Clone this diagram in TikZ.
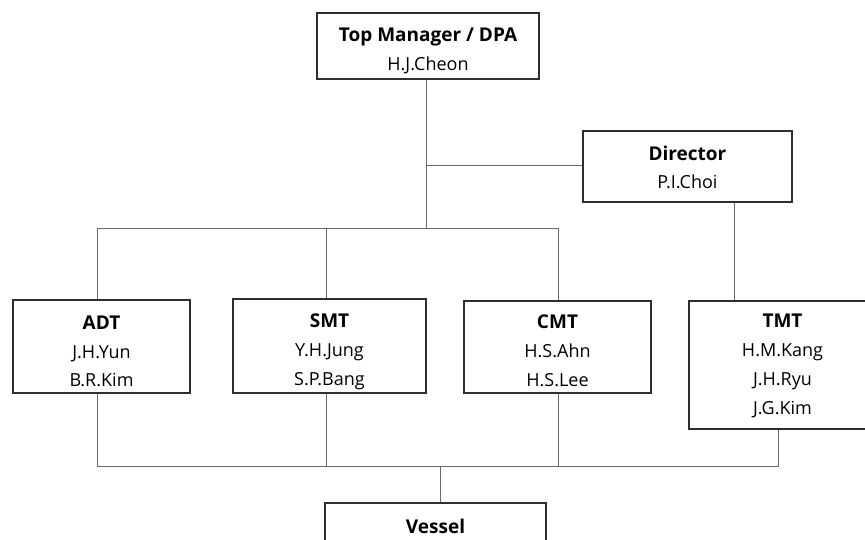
\documentclass[tikz,border=0pt]{standalone}
\usepackage{fontspec}
\setmainfont{Open Sans}
\definecolor{boxc}{HTML}{2E2E2E}
\definecolor{linec}{HTML}{6A6A6A}
\newcommand{\hd}[1]{{\fontsize{19}{28.5}\selectfont\bfseries #1}}
\begin{document}
\begin{tikzpicture}[x=1pt,y=-1pt,
  orgbox/.style={draw=boxc, line width=1.3pt, fill=white, inner sep=0pt},
  txt/.style={align=center, inner sep=0pt, font=\fontsize{18}{28.8}\selectfont, text=black},
  conn/.style={draw=linec, line width=1pt}]
\useasboundingbox (0,0) rectangle (865,539);
\clip (0,0) rectangle (865,539);
% boxes
\node[orgbox, minimum width=222pt, minimum height=66pt] (top) at (428,46) {};
\node[orgbox, minimum width=209pt, minimum height=71pt] (dir) at (687.5,166.5) {};
\node[orgbox, minimum width=177pt, minimum height=93pt] (adt) at (101.5,346.5) {};
\node[orgbox, minimum width=193pt, minimum height=94pt] (smt) at (329.5,346) {};
\node[orgbox, minimum width=187pt, minimum height=92pt] (cmt) at (557.5,347) {};
\node[orgbox, minimum width=187pt, minimum height=128pt] (tmt) at (782.5,365) {};
\node[orgbox, minimum width=221pt, minimum height=66pt] (ves) at (435.5,536) {};
% texts
\node[txt] (top-t) at ([yshift=-5pt]top.center) {\hd{Top Manager / DPA}\\H.J.Cheon};
\node[txt] (dir-t) at ([yshift=-1pt]dir.center) {\hd{Director}\\P.I.Choi};
\node[txt] (adt-t) at ([yshift=-5pt]adt.center) {\hd{ADT}\\J.H.Yun\\B.R.Kim};
\node[txt] (smt-t) at ([yshift=-6pt]smt.center) {\hd{SMT}\\Y.H.Jung\\S.P.Bang};
\node[txt] (cmt-t) at ([yshift=-4pt]cmt.center) {\hd{CMT}\\H.S.Ahn\\H.S.Lee};
\node[txt] (tmt-t) at ([yshift=-1pt]tmt.center) {\hd{TMT}\\H.M.Kang\\J.H.Ryu\\J.G.Kim};
\node[txt] (ves-t) at (435.5,526) {\hd{Vessel}};
% junction coordinates
\coordinate (hub) at (426,228);
\coordinate (dj) at (426,165);
\coordinate (bl) at (97,228);
\coordinate (br) at (558,228);
\coordinate (smtj) at (326,228);
\coordinate (bus) at (440,466);
\coordinate (busl) at (97,466);
\coordinate (busr) at (778,466);
\coordinate (smtb) at (326,466);
\coordinate (cmtb) at (558,466);
\coordinate (dirx) at (734,0);
% connectors
\draw[conn] (top.south -| hub) -- (hub);
\draw[conn] (dj) -- (dj -| dir.west);
\draw[conn] (bl) -- (br);
\draw[conn] (bl) -- (bl |- adt.north);
\draw[conn] (smtj) -- (smtj |- smt.north);
\draw[conn] (br) -- (br |- cmt.north);
\draw[conn] (dir.south -| dirx) -- (tmt.north -| dirx);
\draw[conn] (busl |- adt.south) -- (busl) -- (busr) -- (busr |- tmt.south);
\draw[conn] (smtb |- smt.south) -- (smtb);
\draw[conn] (cmtb |- cmt.south) -- (cmtb);
\draw[conn] (bus) -- (ves.north -| bus);
\end{tikzpicture}
\end{document}
